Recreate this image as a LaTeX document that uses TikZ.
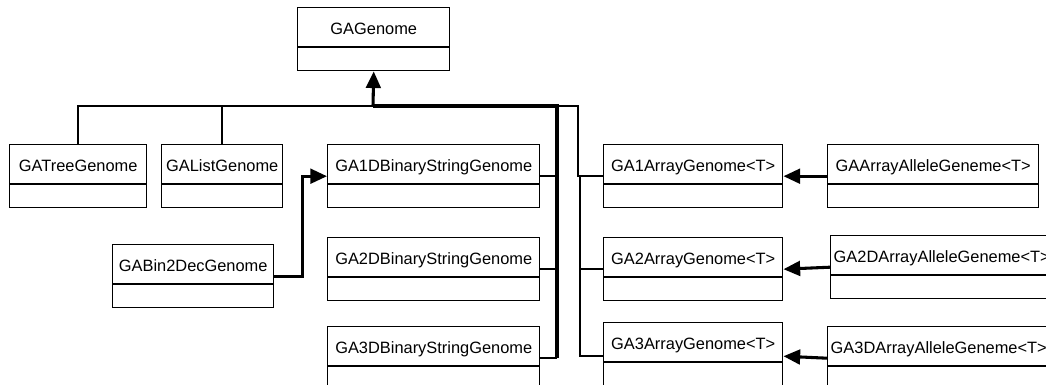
\documentclass[tikz,border=0pt]{standalone}
\usepackage{fontspec}
\setsansfont{Liberation Sans}
\usepackage{tikz}
\usetikzlibrary{arrows.meta, shapes.multipart}
\newcommand{\clsstrut}{\rule[-9pt]{0pt}{28.5pt}}

\begin{document}
\begin{tikzpicture}[
  x=0.75pt, y=-0.75pt,
  cls/.style={draw, line width=1.1pt, rectangle split, rectangle split parts=2,
    rectangle split empty part height=16.5pt, rectangle split empty part depth=0pt,
    inner xsep=2pt, inner ysep=0pt, anchor=north west,
    font=\sffamily\fontsize{12.3pt}{14pt}\selectfont, execute at begin node=\clsstrut},
  link/.style={line width=1.2pt},
  mainlink/.style={line width=2.3pt},
  arr/.style={-{Triangle[length=12.5pt, width=11pt]}, line width=2.3pt}
]
\useasboundingbox (0,0) rectangle (1046,385);
\clip (0,0) rectangle (1046,385);

\node[cls, minimum width=114pt] (gagenome) at (297,7) {GAGenome};
\node[cls, minimum width=102.75pt] (gatree) at (9,144) {GATreeGenome};
\node[cls, minimum width=90.75pt] (galist) at (161,144) {GAListGenome};
\node[cls, minimum width=120.75pt] (gabin2dec) at (112,244) {GABin2DecGenome};
\node[cls, minimum width=159pt] (ga1dbin) at (327,144) {GA1DBinaryStringGenome};
\node[cls, minimum width=159pt] (ga2dbin) at (327,237) {GA2DBinaryStringGenome};
\node[cls, minimum width=159pt] (ga3dbin) at (327,326) {GA3DBinaryStringGenome};
\node[cls, minimum width=134.25pt] (ga1arr) at (603,144) {GA1ArrayGenome<T>};
\node[cls, minimum width=134.25pt] (ga2arr) at (603,237) {GA2ArrayGenome<T>};
\node[cls, minimum width=134.25pt, rectangle split empty part height=19.5pt] (ga3arr) at (603,322) {GA3ArrayGenome<T>};
\node[cls, minimum width=158.25pt] (gaallele) at (827,144) {GAArrayAlleleGeneme<T>};
\node[cls, minimum width=166.5pt] (ga2allele) at (830,235) {GA2DArrayAlleleGeneme<T>};
\node[cls, minimum width=166.5pt] (ga3allele) at (827,326) {GA3DArrayAlleleGeneme<T>};

% inheritance tree
\coordinate (joint) at (373,106);
\coordinate (trunk) at (557,106);
\coordinate (rail) at (580,0);
\draw[arr] (joint) -- (gagenome.south);
\draw[link] (gatree.north) |- (joint);
\draw[link] (galist.north) -- (galist.north |- joint);
\draw[mainlink] (joint) -- (trunk) -- (trunk |- ga3dbin.east);
\foreach \b in {ga1dbin, ga2dbin, ga3dbin}
  \draw[link] (\b.east) -- (\b.east -| trunk);
\draw[link] (trunk) -- ++(21,0) |- (ga1arr.west);
\draw[link] (rail |- ga1arr.west) |- (ga3arr.west);
\draw[link] (rail |- ga2arr.west) -- (ga2arr.west);

% other links
\draw[arr] (gabin2dec.east) -- ++(28,0) |- (ga1dbin.west);
\draw[arr] (gaallele.west) -- (ga1arr.east);
\draw[arr] (ga2allele.west) -- (ga2arr.east);
\draw[arr] (ga3allele.west) -- (ga3arr.east);
\end{tikzpicture}
\end{document}
